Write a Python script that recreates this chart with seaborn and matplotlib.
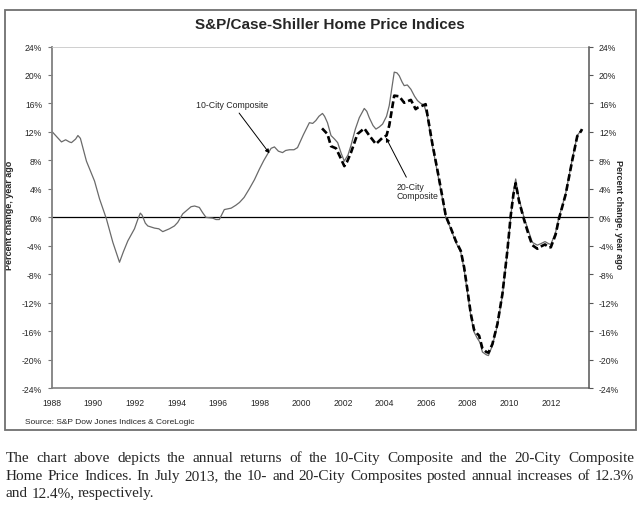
import pandas as pd
import matplotlib
matplotlib.use("Agg")
import matplotlib.pyplot as plt
import seaborn as sns
from matplotlib.patches import Rectangle
from matplotlib.ticker import FuncFormatter

# 10-City Composite, annual % change
years_10 = [1988.00, 1988.25, 1988.47, 1988.67, 1988.85, 1988.95, 1989.15, 1989.26, 1989.38, 1989.55,
            1989.67, 1989.85, 1990.06, 1990.30, 1990.63, 1990.94, 1991.26, 1991.45, 1991.66, 1991.98,
            1992.15, 1992.26, 1992.35, 1992.50, 1992.62, 1992.94, 1993.15, 1993.34, 1993.66, 1993.90,
            1994.06, 1994.30, 1994.54, 1994.70, 1994.87, 1995.10, 1995.25, 1995.42, 1995.74, 1995.90,
            1996.06, 1996.30, 1996.63, 1996.85, 1997.03, 1997.25, 1997.50, 1997.75, 1997.99, 1998.20,
            1998.38, 1998.55, 1998.71, 1998.90, 1999.10, 1999.25, 1999.43, 1999.65, 1999.82, 2000.10,
            2000.39, 2000.55, 2000.70, 2000.85, 2001.02, 2001.12, 2001.26, 2001.43, 2001.60, 2001.75,
            2001.92, 2002.07, 2002.25, 2002.39, 2002.60, 2002.79, 2003.03, 2003.15, 2003.27, 2003.45,
            2003.59, 2003.75, 2003.91, 2004.10, 2004.23, 2004.35, 2004.47, 2004.60, 2004.71, 2004.85,
            2004.95, 2005.10, 2005.27, 2005.45, 2005.59, 2005.75, 2005.90, 2006.06, 2006.30, 2006.55,
            2006.79, 2006.95, 2007.19, 2007.43, 2007.67, 2007.83, 2007.99, 2008.15, 2008.31, 2008.45,
            2008.60, 2008.71, 2008.90, 2009.00, 2009.19, 2009.43, 2009.67, 2009.91, 2010.07, 2010.20,
            2010.31, 2010.47, 2010.71, 2010.95, 2011.11, 2011.35, 2011.51, 2011.72, 2011.90, 2012.00,
            2012.23, 2012.39, 2012.71, 2013.03, 2013.27, 2013.45, 2013.50]
pct_10 = [12.1, 11.3, 10.6, 10.9, 10.6, 10.5, 11.0, 11.5, 11.1, 9.2,
          7.9, 6.6, 5.1, 2.6, -0.2, -3.5, -6.3, -4.8, -3.3, -1.6,
          -0.2, 0.6, 0.3, -0.8, -1.2, -1.5, -1.6, -2.0, -1.6, -1.2,
          -0.7, 0.5, 1.1, 1.5, 1.6, 1.4, 0.7, 0.0, -0.1, -0.3,
          -0.3, 1.1, 1.3, 1.7, 2.1, 2.8, 4.0, 5.3, 6.8, 8.0,
          8.9, 9.7, 9.9, 9.3, 9.1, 9.4, 9.5, 9.5, 9.8, 11.6,
          13.3, 13.2, 13.6, 14.2, 14.6, 14.2, 13.3, 11.5, 11.0, 10.5,
          9.0, 7.9, 8.8, 10.1, 12.4, 14.0, 15.3, 14.9, 14.0, 12.9,
          12.4, 12.7, 13.1, 14.2, 15.7, 18.0, 20.4, 20.3, 19.9, 19.0,
          18.5, 18.6, 18.0, 17.0, 16.4, 16.0, 15.8, 14.3, 10.1, 6.3,
          2.6, 0.0, -1.6, -3.5, -4.9, -7.3, -10.5, -13.8, -16.1, -16.9,
          -17.6, -18.9, -19.3, -19.4, -18.0, -15.2, -11.0, -4.9, 0.0, 3.5,
          5.4, 2.6, 0.0, -2.1, -3.5, -3.9, -3.7, -3.4, -3.7, -3.8,
          -2.1, 0.0, 3.3, 8.2, 11.5, 12.2, 12.3]

# 20-City Composite, annual % change
years_20 = [2001.00, 2001.26, 2001.43, 2001.67, 2001.85, 2002.07, 2002.20, 2002.39, 2002.70, 2003.03,
            2003.27, 2003.59, 2003.91, 2004.10, 2004.23, 2004.47, 2004.71, 2004.95, 2005.27, 2005.50,
            2005.59, 2005.83, 2005.98, 2006.06, 2006.30, 2006.55, 2006.79, 2006.95, 2007.19, 2007.43,
            2007.67, 2007.83, 2007.99, 2008.15, 2008.31, 2008.45, 2008.55, 2008.71, 2008.90, 2009.00,
            2009.19, 2009.43, 2009.67, 2009.91, 2010.07, 2010.20, 2010.31, 2010.47, 2010.71, 2010.95,
            2011.11, 2011.35, 2011.51, 2011.72, 2011.90, 2012.00, 2012.23, 2012.39, 2012.71, 2013.03,
            2013.27, 2013.45, 2013.50]
pct_20 = [12.5, 11.7, 10.0, 9.7, 8.6, 7.2, 7.8, 9.1, 11.7, 12.5,
          11.5, 10.3, 11.2, 11.5, 12.9, 17.1, 17.0, 16.1, 16.5, 15.2,
          15.4, 15.7, 15.9, 14.5, 10.4, 6.6, 2.8, 0.2, -1.5, -3.3,
          -4.7, -7.0, -10.2, -13.5, -15.8, -16.3, -16.6, -18.4, -18.9, -19.0,
          -17.8, -15.0, -10.8, -4.7, 0.2, 3.2, 4.8, 2.3, -0.3, -2.6,
          -3.9, -4.4, -4.1, -3.8, -4.2, -4.2, -2.4, -0.2, 3.2, 8.0,
          11.4, 12.1, 12.4]

y_ticks = list(range(-24, 25, 4))
x_ticks = list(range(1988, 2013, 2))

title = "S&P/Case-Shiller Home Price Indices"
source = "Source: S&P Dow Jones Indices & CoreLogic"
ylab = "Percent change, year ago"
para = ["The chart above depicts the annual returns of the 10-City Composite and the 20-City Composite",
        "Home Price Indices. In July 2013, the 10- and 20-City Composites posted annual increases of 12.3%",
        "and 12.4%, respectively."]

sns.set_style("white")
plt.rcParams['font.family'] = ['Liberation Sans', 'DejaVu Sans']

W, H = 640, 510
fig = plt.figure(figsize=(6.4, 5.1), dpi=100)
fig.patch.set_facecolor('white')
ax = fig.add_axes([51.7 / W, 1 - 389.3 / H, (589.3 - 51.7) / W, (389.3 - 47.5) / H])

df10 = pd.DataFrame({'year': years_10, 'pct': pct_10})
df20 = pd.DataFrame({'year': years_20, 'pct': pct_20})
sns.lineplot(data=df10, x='year', y='pct', color='#6a6a6a', lw=0.9, ax=ax, estimator=None, sort=False)
sns.lineplot(data=df20, x='year', y='pct', color='black', lw=1.9, linestyle=(0, (2.6, 1.2)),
             ax=ax, estimator=None, sort=False)
ax.axhline(0, color='black', lw=0.9, zorder=1)

ax.set_xlim(1988, 2013.85)
ax.set_ylim(-24, 24)
ax.set_xticks(x_ticks)
ax.set_yticks(y_ticks)
pctfmt = FuncFormatter(lambda v, p: "%d%%" % v)
ax.yaxis.set_major_formatter(pctfmt)
ax.set_xlabel('')
ax.set_ylabel(ylab, fontsize=6.5, fontweight='bold')
ax.yaxis.set_label_coords(-0.070, 0.51)
ax.tick_params(axis='both', labelsize=6.2, length=3, width=0.8, color='#777777', direction='out', pad=4)

ax2 = ax.twinx()
ax2.set_ylim(-24, 24)
ax2.set_yticks(y_ticks)
ax2.yaxis.set_major_formatter(pctfmt)
ax2.set_ylabel(ylab, fontsize=6.5, fontweight='bold', rotation=270)
ax2.yaxis.set_label_coords(1.063, 0.51)
ax2.tick_params(axis='y', labelsize=6.2, length=3, width=0.8, color='#555555', direction='out', pad=4)

for a in (ax, ax2):
    for s in a.spines.values():
        s.set_visible(False)
ax.spines['left'].set_visible(True)
ax.spines['left'].set_color('#808080')
ax.spines['left'].set_linewidth(1.3)
ax.spines['bottom'].set_visible(True)
ax.spines['bottom'].set_color('#808080')
ax.spines['bottom'].set_linewidth(1.2)
ax.spines['top'].set_visible(True)
ax.spines['top'].set_color('#c8c8c8')
ax.spines['top'].set_linewidth(0.6)
ax2.spines['right'].set_visible(True)
ax2.spines['right'].set_color('#555555')
ax2.spines['right'].set_linewidth(1.1)

ax.annotate("10-City Composite", xy=(1998.47, 9.0), xytext=(1996.69, 15.9),
            ha='center', va='center', fontsize=6.3,
            arrowprops=dict(arrowstyle='-|>', color='black', lw=0.7, mutation_scale=6, shrinkA=1, shrinkB=0))
ax.annotate("20-City\nComposite", xy=(2004.07, 11.2), xytext=(2004.56, 3.7),
            ha='left', va='center', fontsize=6.3, linespacing=1.1,
            arrowprops=dict(arrowstyle='-|>', color='black', lw=0.7, mutation_scale=6, shrinkA=1, shrinkB=0,
                            relpos=(0.3, 1.0)))

fig.text(330 / W, 1 - 25 / H, title, ha='center', va='center', fontsize=11, fontweight='bold')
fig.text(25 / W, 1 - 423 / H, source, ha='left', va='center', fontsize=6)
fig.patches.append(Rectangle((5.3 / W, 1 - 431 / H), (635.7 - 5.3) / W, (431 - 10.7) / H,
                             transform=fig.transFigure, fill=False, ec='#6f6f6f', lw=1.3))

# justified paragraph below the chart, words placed on a common baseline
r = fig.canvas.get_renderer()
x0, x1 = 6.0, 634.0
baselines = [462.5, 480, 497]
for i, line in enumerate(para):
    words = line.split()
    arts = [fig.text(0, 1 - baselines[i] / H, w, fontsize=11, family='Liberation Serif', va='baseline')
            for w in words]
    widths = [a.get_window_extent(r).width for a in arts]
    if i < len(para) - 1:
        gap = (x1 - x0 - sum(widths)) / (len(words) - 1)
    else:
        gap = 3.2
    x = x0
    for a, w in zip(arts, widths):
        a.set_x(x / W)
        x += w + gap

fig.savefig('out.png', dpi=100)
